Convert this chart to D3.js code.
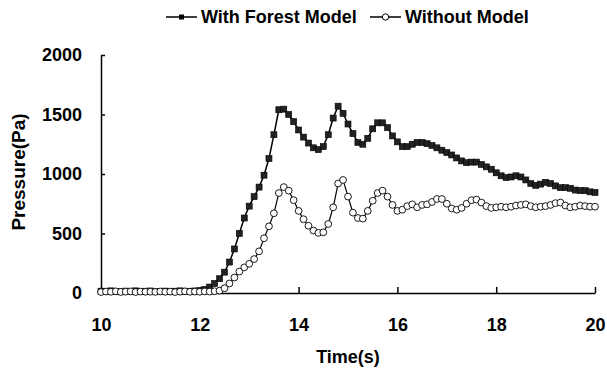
<!DOCTYPE html>
<html>
<head>
<meta charset="utf-8">
<script src="https://cdn.jsdelivr.net/npm/d3@7"></script>
<style>
  body { margin: 0; background: #fff; }
  svg { display: block; }
  text { font-family: "Liberation Sans", Arial, sans-serif; font-weight: bold; fill: #000; }
</style>
</head>
<body>
<div id="chart"></div>
<script>
// sampled every 0.1 s from 10 s to 20 s
const timeStart = 10, timeStep = 0.1;

const seriesNames = ['With Forest Model', 'Without Model'];

// pressure (Pa)
const withForest = [
  15, 12, 18, 14, 10, 16, 13, 18, 12, 15,
  17, 11, 14, 16, 12, 15, 18, 13, 15, 17,
  20, 30, 50, 80, 120, 175, 260, 370, 500, 630,
  730, 810, 890, 990, 1130, 1330, 1540, 1545, 1500, 1440,
  1370, 1310, 1260, 1220, 1205, 1230, 1330, 1470, 1570, 1510,
  1420, 1340, 1265, 1250, 1300, 1380, 1430, 1430, 1390, 1320,
  1270, 1230, 1230, 1250, 1265, 1265, 1255, 1240, 1220, 1200,
  1180, 1160, 1135, 1110, 1095, 1100, 1100, 1080, 1060, 1040,
  1010, 985, 970, 975, 985, 975, 950, 920, 905, 915,
  930, 920, 900, 885, 885, 880, 865, 860, 860, 850,
  845
];

const withoutModel = [
  8, 12, 10, 14, 9, 11, 13, 8, 12, 10,
  11, 9, 13, 10, 12, 8, 11, 14, 10, 12,
  10, 13, 12, 15, 20, 40, 80, 130, 180, 215,
  245, 285, 350, 460, 560, 670, 840, 890, 860, 780,
  690, 620, 565, 525, 505, 510, 580, 720, 920, 950,
  810, 675, 630, 625, 690, 775, 840, 860, 810, 740,
  690, 700, 730, 745, 720, 740, 745, 765, 790, 790,
  750, 710, 700, 715, 750, 780, 785, 760, 730, 715,
  720, 725, 720, 725, 735, 740, 745, 730, 720, 725,
  730, 740, 755, 760, 735, 720, 725, 735, 730, 725,
  725
];

const xTicks = [10, 12, 14, 16, 18, 20];
const yTicks = [0, 500, 1000, 1500, 2000];

const config = {
  width: 607,
  height: 378,
  margin: {top: 55, right: 12, bottom: 85, left: 101}
};

const innerW = config.width - config.margin.left - config.margin.right;
const innerH = config.height - config.margin.top - config.margin.bottom;

const svg = d3.select('#chart').append('svg')
    .attr('width', config.width)
    .attr('height', config.height);

const chart = svg.append('g')
    .attr('transform', `translate(${config.margin.left},${config.margin.top})`);

const x = d3.scaleLinear().domain([10, 20]).range([0, innerW]);
const y = d3.scaleLinear().domain([0, 2000]).range([innerH, 0]);

// x axis, ticks pointing inward
const xAxis = chart.append('g')
    .attr('transform', `translate(0,${innerH})`)
    .call(d3.axisBottom(x).tickValues(xTicks).tickSizeInner(-6).tickSizeOuter(0).tickPadding(25).tickFormat(d3.format('d')));

const yAxis = chart.append('g')
    .call(d3.axisLeft(y).tickValues(yTicks).tickSizeInner(-4).tickSizeOuter(0).tickPadding(19).tickFormat(d3.format('d')));

[xAxis, yAxis].forEach(ax => {
  ax.selectAll('text').style('font-size', '18px');
  ax.select('.domain').attr('stroke', '#000').attr('stroke-width', 1.5);
  ax.selectAll('.tick line').attr('stroke', '#000').attr('stroke-width', 1.5);
});

// axis titles
svg.append('text')
    .attr('x', config.margin.left + innerW / 2)
    .attr('y', 363)
    .attr('text-anchor', 'middle')
    .style('font-size', '18px')
    .text('Time(s)');

svg.append('text')
    .attr('transform', 'translate(25,172) rotate(-90)')
    .attr('text-anchor', 'middle')
    .style('font-size', '19px')
    .text('Pressure(Pa)');

const toPoints = vals => vals.map((v, i) => ({t: timeStart + i * timeStep, p: v}));
const line = d3.line().x(d => x(d.t)).y(d => y(d.p));

// with forest model: line + small filled squares
const forestPts = toPoints(withForest);
chart.append('path')
    .datum(forestPts)
    .attr('fill', 'none')
    .attr('stroke', '#000')
    .attr('stroke-width', 1.5)
    .attr('d', line);

chart.selectAll('.sq')
    .data(forestPts)
  .join('rect')
    .attr('class', 'sq')
    .attr('x', d => x(d.t) - 3)
    .attr('y', d => y(d.p) - 3)
    .attr('width', 6)
    .attr('height', 6)
    .attr('fill', '#222')
    .attr('stroke', '#000')
    .attr('stroke-width', 0.6);

// without model: line + open circles
const noModelPts = toPoints(withoutModel);
chart.append('path')
    .datum(noModelPts)
    .attr('fill', 'none')
    .attr('stroke', '#000')
    .attr('stroke-width', 1.2)
    .attr('d', line);

chart.selectAll('.circ')
    .data(noModelPts)
  .join('circle')
    .attr('class', 'circ')
    .attr('cx', d => x(d.t))
    .attr('cy', d => y(d.p))
    .attr('r', 3.4)
    .attr('fill', '#fff')
    .attr('stroke', '#000')
    .attr('stroke-width', 0.9);

// legend
const legend = svg.append('g').attr('transform', 'translate(0,17)');
const legendItems = [
  {name: seriesNames[0], x0: 166, type: 'square'},
  {name: seriesNames[1], x0: 370, type: 'circle'}
];

legendItems.forEach(it => {
  const g = legend.append('g').attr('transform', `translate(${it.x0},0)`);
  g.append('line')
      .attr('x1', 0).attr('x2', 31)
      .attr('stroke', '#000').attr('stroke-width', 1.5);
  if (it.type === 'square') {
    g.append('rect').attr('x', 13).attr('y', -2.5).attr('width', 5).attr('height', 5).attr('fill', '#000');
  } else {
    g.append('circle').attr('cx', 15.5).attr('r', 3.2).attr('fill', '#fff').attr('stroke', '#000');
  }
  g.append('text')
      .attr('x', 35)
      .attr('dy', '.36em')
      .style('font-size', '18px')
      .text(it.name);
});
</script>
</body>
</html>
